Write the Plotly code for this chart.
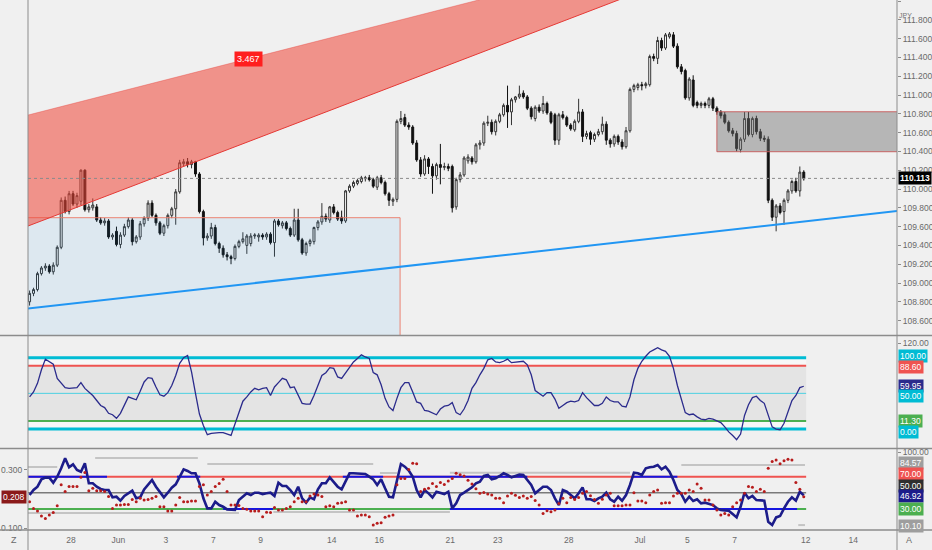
import numpy as np
import pandas as pd
import plotly.graph_objects as go

# USDJPY 4h bars, 26 May - 9 Jul 2021 (first bar of 26 May is off screen)
opens = [
    108.80, 108.89, 108.93, 109.10, 109.16, 109.18, 109.12, 109.19, 109.38, 109.88,
    109.76, 109.95, 109.84, 109.87, 110.20, 109.78, 109.80, 109.81, 109.67, 109.64,
    109.66, 109.49, 109.55, 109.41, 109.51, 109.60, 109.67, 109.44, 109.49, 109.63,
    109.69, 109.85, 109.72, 109.64, 109.53, 109.61, 109.72, 109.79, 109.97, 110.27,
    110.29, 110.26, 110.29, 110.16, 109.76, 109.48, 109.50, 109.59, 109.42, 109.37,
    109.30, 109.28, 109.26, 109.39, 109.44, 109.40, 109.42, 109.50, 109.49, 109.51,
    109.49, 109.52, 109.43, 109.66, 109.61, 109.64, 109.58, 109.51, 109.67, 109.46,
    109.32, 109.42, 109.44, 109.59, 109.65, 109.71, 109.67, 109.81, 109.75, 109.70,
    109.66, 109.98, 110.03, 110.06, 110.08, 110.11, 110.12, 110.10, 110.02, 110.12,
    110.07, 109.95, 109.87, 109.89, 110.72, 110.76, 110.68, 110.66, 110.49, 110.31,
    110.16, 110.32, 110.24, 110.14, 110.26, 110.23, 110.24, 110.24, 109.81, 110.10,
    110.15, 110.30, 110.33, 110.29, 110.47, 110.49, 110.70, 110.71, 110.61, 110.72,
    110.79, 110.89, 110.82, 110.95, 110.98, 111.02, 110.98, 110.86, 110.75, 110.87,
    110.83, 110.91, 110.81, 110.79, 110.52, 110.79, 110.76, 110.68, 110.63, 110.72,
    110.82, 110.56, 110.60, 110.53, 110.58, 110.61, 110.69, 110.52, 110.48, 110.56,
    110.50, 110.45, 110.62, 111.06, 111.08, 111.11, 111.10, 111.11, 111.41, 111.39,
    111.58, 111.50, 111.62, 111.64, 111.52, 111.30, 111.26, 110.97, 111.16, 110.92,
    110.89, 110.91, 110.89, 110.96, 110.86, 110.82, 110.79, 110.71, 110.62, 110.59,
    110.42, 110.53, 110.75, 110.58, 110.75, 110.61, 110.54, 110.53, 109.88, 109.70,
    109.82, 109.76, 109.88, 109.98, 110.08, 109.98, 110.18,
]
highs = [
    108.92, 108.95, 109.12, 109.18, 109.21, 109.20, 109.22, 109.40, 109.91, 109.92,
    109.98, 109.98, 109.96, 110.21, 110.21, 109.84, 109.90, 109.84, 109.70, 109.69,
    109.68, 109.53, 109.60, 109.54, 109.63, 109.70, 109.69, 109.51, 109.66, 109.71,
    109.88, 109.88, 109.74, 109.66, 109.63, 109.74, 109.81, 110.00, 110.31, 110.32,
    110.33, 110.31, 110.30, 110.18, 109.78, 109.53, 109.64, 109.62, 109.44, 109.40,
    109.33, 109.30, 109.41, 109.46, 109.54, 109.52, 109.53, 109.53, 109.53, 109.53,
    109.54, 109.54, 109.68, 109.68, 109.66, 109.66, 109.60, 109.79, 109.79, 109.48,
    109.44, 109.47, 109.60, 109.67, 109.85, 109.74, 109.82, 109.84, 109.77, 109.77,
    109.99, 110.05, 110.09, 110.11, 110.14, 110.14, 110.15, 110.12, 110.14, 110.15,
    110.09, 109.97, 109.91, 110.74, 110.83, 110.80, 110.71, 110.68, 110.52, 110.34,
    110.36, 110.34, 110.27, 110.28, 110.48, 110.28, 110.27, 110.26, 110.12, 110.18,
    110.35, 110.37, 110.35, 110.49, 110.52, 110.72, 110.78, 110.74, 110.74, 110.81,
    110.91, 111.10, 110.97, 110.99, 111.10, 111.05, 111.00, 110.88, 110.89, 110.90,
    110.99, 110.93, 110.83, 110.81, 110.81, 110.83, 110.78, 110.70, 110.74, 110.96,
    110.85, 110.62, 110.62, 110.60, 110.64, 110.77, 110.72, 110.54, 110.58, 110.58,
    110.53, 110.66, 111.08, 111.12, 111.13, 111.14, 111.14, 111.43, 111.44, 111.62,
    111.61, 111.66, 111.67, 111.67, 111.55, 111.33, 111.28, 111.19, 111.21, 110.94,
    110.93, 110.93, 110.98, 110.98, 110.88, 110.84, 110.82, 110.73, 110.65, 110.62,
    110.55, 110.82, 110.82, 110.77, 110.78, 110.64, 110.57, 110.56, 109.90, 109.84,
    109.85, 109.90, 110.00, 110.10, 110.12, 110.24, 110.20,
]
lows = [
    108.76, 108.86, 108.91, 109.08, 109.13, 109.10, 109.09, 109.17, 109.36, 109.74,
    109.73, 109.82, 109.80, 109.83, 109.76, 109.75, 109.77, 109.65, 109.62, 109.61,
    109.47, 109.46, 109.39, 109.37, 109.49, 109.58, 109.40, 109.42, 109.46, 109.60,
    109.66, 109.70, 109.61, 109.51, 109.50, 109.58, 109.69, 109.62, 109.95, 110.24,
    110.23, 110.22, 110.13, 109.74, 109.40, 109.45, 109.47, 109.40, 109.32, 109.27,
    109.24, 109.20, 109.24, 109.37, 109.42, 109.31, 109.39, 109.47, 109.44, 109.46,
    109.46, 109.41, 109.28, 109.60, 109.58, 109.56, 109.49, 109.49, 109.44, 109.30,
    109.29, 109.39, 109.41, 109.56, 109.62, 109.65, 109.64, 109.73, 109.66, 109.63,
    109.64, 109.96, 110.01, 110.04, 110.06, 110.08, 110.08, 110.01, 109.99, 110.05,
    109.93, 109.82, 109.82, 109.86, 110.69, 110.66, 110.63, 110.47, 110.29, 110.13,
    110.14, 110.16, 109.95, 110.10, 110.05, 110.20, 110.19, 109.75, 109.78, 110.07,
    110.13, 110.27, 110.26, 110.27, 110.42, 110.46, 110.67, 110.58, 110.57, 110.70,
    110.77, 110.65, 110.68, 110.92, 110.96, 110.96, 110.84, 110.74, 110.72, 110.81,
    110.80, 110.79, 110.69, 110.47, 110.47, 110.74, 110.66, 110.62, 110.61, 110.70,
    110.50, 110.53, 110.47, 110.50, 110.56, 110.58, 110.47, 110.44, 110.45, 110.47,
    110.42, 110.43, 110.60, 111.03, 111.05, 111.05, 111.07, 111.09, 111.36, 111.33,
    111.47, 111.48, 111.60, 111.50, 111.28, 111.22, 110.95, 110.94, 110.87, 110.86,
    110.86, 110.86, 110.86, 110.83, 110.79, 110.75, 110.69, 110.60, 110.56, 110.40,
    110.39, 110.50, 110.56, 110.55, 110.58, 110.51, 110.50, 109.85, 109.66, 109.55,
    109.73, 109.62, 109.85, 109.95, 109.96, 109.92, 110.09,
]
closes = [
    108.89, 108.93, 109.10, 109.16, 109.18, 109.12, 109.19, 109.38, 109.88, 109.76,
    109.95, 109.84, 109.93, 110.20, 109.78, 109.81, 109.83, 109.67, 109.64, 109.66,
    109.49, 109.51, 109.41, 109.51, 109.60, 109.67, 109.44, 109.49, 109.63, 109.69,
    109.85, 109.72, 109.64, 109.53, 109.61, 109.72, 109.79, 109.97, 110.28, 110.29,
    110.26, 110.29, 110.16, 109.76, 109.48, 109.50, 109.59, 109.42, 109.37, 109.30,
    109.28, 109.26, 109.39, 109.44, 109.47, 109.50, 109.50, 109.51, 109.51, 109.49,
    109.52, 109.43, 109.66, 109.62, 109.64, 109.58, 109.51, 109.67, 109.46, 109.32,
    109.42, 109.45, 109.59, 109.65, 109.71, 109.68, 109.81, 109.75, 109.68, 109.66,
    109.98, 110.03, 110.07, 110.09, 110.12, 110.12, 110.10, 110.03, 110.12, 110.07,
    109.95, 109.88, 109.89, 110.72, 110.75, 110.68, 110.66, 110.49, 110.31, 110.16,
    110.32, 110.24, 110.14, 110.26, 110.23, 110.24, 110.22, 109.80, 110.10, 110.15,
    110.33, 110.34, 110.29, 110.47, 110.49, 110.70, 110.71, 110.61, 110.72, 110.79,
    110.89, 110.82, 110.95, 110.98, 111.01, 110.98, 110.86, 110.77, 110.87, 110.83,
    110.91, 110.81, 110.71, 110.52, 110.79, 110.76, 110.68, 110.64, 110.72, 110.82,
    110.56, 110.59, 110.53, 110.58, 110.61, 110.69, 110.52, 110.48, 110.56, 110.50,
    110.45, 110.62, 111.06, 111.10, 111.11, 111.10, 111.12, 111.41, 111.39, 111.58,
    111.50, 111.64, 111.65, 111.52, 111.30, 111.25, 110.97, 111.17, 110.89, 110.89,
    110.91, 110.89, 110.96, 110.86, 110.82, 110.78, 110.71, 110.62, 110.59, 110.43,
    110.53, 110.75, 110.58, 110.75, 110.61, 110.54, 110.53, 109.88, 109.70, 109.82,
    109.75, 109.88, 109.98, 110.08, 109.98, 110.18, 110.11,
]

# middle pane oscillator
osc = [
    45, 52, 64, 83, 98, 94, 91, 71, 64, 58,
    57, 57, 58, 65, 57, 52, 47, 40, 33, 30,
    22, 20, 15, 22, 33, 45, 43, 41, 53, 66,
    72, 71, 59, 48, 46, 51, 61, 75, 92, 100,
    103, 80, 50, 21, 5, -8, -6, -5, -5, -5,
    -7, -9, 7, 24, 39, 45, 52, 57, 55, 57,
    58, 47, 59, 65, 71, 69, 58, 59, 47, 36,
    35, 35, 47, 62, 75, 79, 86, 85, 73, 71,
    79, 87, 94, 99, 104, 101, 99, 79, 76, 62,
    43, 31, 26, 43, 58, 65, 65, 52, 38, 36,
    26, 25, 23, 20, 28, 32, 33, 37, 23, 20,
    28, 40, 57, 65, 76, 85, 97, 99, 94, 93,
    95, 98, 93, 94, 94, 95, 90, 76, 54, 50,
    46, 51, 51, 42, 29, 33, 37, 39, 38, 40,
    51, 44, 39, 33, 33, 36, 45, 40, 38, 38,
    32, 31, 45, 69, 85, 95, 102, 108, 111, 114,
    111, 109, 102, 85, 61, 40, 23, 20, 21, 17,
    14, 13, 15, 14, 12, 9, 3, -4, -9, -15,
    -7, 19, 34, 44, 46, 40, 36, 19, 3, 0,
    -1, 8, 24, 40, 47, 58, 59.95,
]
osc_levels = [100, 88.6, 50, 11.3, 0]

# bottom pane: rsi on the right scale, red dots on the left scale
rsi = [
    47.3, 53.5, 57.6, 66.7, 68.8, 68.8, 62.6, 70.0, 80.4, 92.8,
    81.6, 85.3, 78.3, 76.2, 86.6, 61.8, 61.8, 57.6, 54.8, 53.5,
    53.5, 44.4, 45.2, 40.3, 46.1, 49.4, 52.7, 43.2, 44.4, 54.3,
    59.7, 65.9, 57.6, 51.4, 44.4, 50.2, 56.4, 60.5, 70.0, 79.1,
    77.1, 74.2, 74.2, 61.8, 43.2, 30.8, 30.8, 39.0, 34.9, 32.8,
    29.5, 29.5, 28.8, 41.1, 45.2, 49.4, 47.3, 50.2, 50.2, 48.5,
    49.4, 50.2, 46.1, 62.6, 58.5, 58.5, 53.5, 47.3, 57.6, 43.2,
    37.8, 44.4, 42.0, 54.3, 61.8, 61.8, 69.2, 63.9, 57.6, 54.3,
    63.9, 74.2, 74.2, 74.2, 74.2, 73.3, 70.0, 66.7, 59.7, 66.7,
    55.6, 45.2, 44.4, 66.7, 85.7, 82.4, 77.5, 70.0, 53.5, 44.4,
    53.5, 49.4, 44.4, 51.4, 50.2, 48.5, 51.4, 30.8, 37.0, 47.3,
    50.2, 53.5, 56.8, 61.8, 63.9, 70.9, 72.1, 66.7, 68.0, 70.9,
    74.2, 72.1, 69.2, 70.9, 72.5, 72.1, 65.9, 59.7, 49.4, 53.5,
    57.6, 57.6, 53.5, 43.2, 34.9, 53.5, 51.4, 47.3, 43.2, 49.4,
    56.8, 42.0, 42.0, 39.9, 43.2, 45.2, 50.2, 42.0, 39.0, 45.2,
    40.3, 47.3, 59.7, 75.0, 74.2, 72.1, 80.4, 81.6, 82.4, 84.5,
    79.1, 82.4, 76.2, 65.9, 53.5, 48.5, 39.0, 45.2, 39.9, 42.0,
    37.0, 37.8, 36.1, 34.9, 30.8, 28.8, 28.3, 27.9, 23.8, 19.6,
    32.8, 50.2, 43.2, 46.1, 41.1, 40.3, 40.3, 14.3, 10.2, 19.6,
    21.3, 30.8, 39.0, 44.4, 40.3, 51.4, 46.92,
]
rsi_levels = [70, 50, 30]
dots = [
    0.191, 0.168, 0.159, 0.142, 0.134, 0.146, 0.154, 0.177, 0.249, 0.226,
    0.243, 0.243, 0.243, 0.275, 0.291, 0.229, 0.237, 0.229, 0.229, 0.226,
    0.209, 0.168, 0.180, 0.180, 0.182, 0.182, 0.199, 0.191, 0.203, 0.197,
    0.199, 0.203, 0.209, 0.174, 0.174, 0.159, 0.159, 0.180, 0.206, 0.191,
    0.191, 0.194, 0.194, 0.243, 0.249, 0.214, 0.226, 0.243, 0.254, 0.268,
    0.226, 0.180, 0.180, 0.178, 0.168, 0.165, 0.159, 0.159, 0.159, 0.140,
    0.155, 0.154, 0.171, 0.163, 0.163, 0.168, 0.174, 0.191, 0.203, 0.191,
    0.191, 0.211, 0.218, 0.214, 0.209, 0.174, 0.177, 0.174, 0.186, 0.188,
    0.191, 0.163, 0.163, 0.142, 0.146, 0.146, 0.140, 0.111, 0.117, 0.119,
    0.138, 0.142, 0.146, 0.249, 0.271, 0.271, 0.302, 0.323, 0.321, 0.226,
    0.234, 0.237, 0.254, 0.243, 0.257, 0.250, 0.262, 0.271, 0.289, 0.284,
    0.279, 0.265, 0.252, 0.236, 0.220, 0.223, 0.218, 0.214, 0.203, 0.203,
    0.188, 0.211, 0.220, 0.213, 0.206, 0.211, 0.203, 0.209, 0.195, 0.180,
    0.151, 0.160, 0.157, 0.163, 0.185, 0.203, 0.188, 0.206, 0.199, 0.206,
    0.220, 0.226, 0.212, 0.199, 0.186, 0.200, 0.214, 0.220, 0.177, 0.177,
    0.177, 0.180, 0.180, 0.222, 0.194, 0.194, 0.188, 0.214, 0.226, 0.231,
    0.186, 0.188, 0.188, 0.211, 0.220, 0.220, 0.220, 0.231, 0.226, 0.252,
    0.237, 0.197, 0.197, 0.180, 0.163, 0.146, 0.151, 0.146, 0.174, 0.188,
    0.197, 0.220, 0.243, 0.241, 0.226, 0.234, 0.226, 0.306, 0.329, 0.334,
    0.321, 0.332, 0.337, 0.334, 0.257, 0.234, 0.208,
]

# grey step lines and blue highlights in bottom pane (bar from, bar to, level)
grey_from = [-1, 16.6, 45, 88.7, 106.4, 165, -1, 61.7, 194.6]
grey_to = [7, 42.6, 87, 93, 152, 196.3, 53, 106.4, 196.3]
grey_level = [82, 93.2, 85.7, 74.6, 75, 84.57, 25, 26.3, 10.1]
blue_hi = [(-1, 19.6), (37.3, 43.2), (79.3, 89.5), (93, 126), (152.5, 164)]
blue_lo = [(49, 61.6), (106.4, 194.3)]

tick_dates = ["2021-05-28", "2021-06-01", "2021-06-03", "2021-06-07", "2021-06-09",
              "2021-06-14", "2021-06-16", "2021-06-21", "2021-06-23", "2021-06-28",
              "2021-07-01", "2021-07-05", "2021-07-07", "2021-07-12", "2021-07-14"]
tick_text = ["28", "Jun", "3", "7", "9", "14", "16", "21", "23", "28",
             "Jul", "5", "7", "12", "14"]

# drawings on the price pane (bar index, price)
wedge_bars = [-10, 150]
wedge_upper = [110.684, 112.401]
wedge_lower = [109.452, 112.026]
wedge_label = ("3.467", 55.3, 111.383)
trend_bars = [-10, 230]
trend_prices = [108.684, 109.815]
range_box = (-10, 93.8, 108.0, 109.695)
supply_box = (174.0, 240, 110.397, 110.822)
last_price = 110.113
last_dot = 0.208

assert len(opens) == len(highs) == len(lows) == len(closes) == len(osc) == len(rsi) == len(dots)

BARS_PER_DAY = 6
bars = np.arange(len(closes))
days = pd.bdate_range("2021-05-26", "2021-07-16").strftime("%Y-%m-%d").tolist()
tickvals = [BARS_PER_DAY * days.index(d) - 1.5 for d in tick_dates]
xr = [-0.4, 219.6]
end = len(bars) - 0.4

BG = "#f0f0f0"
FONT = "Liberation Sans"
AX = "#6a6a6a"

fig = go.Figure()
fig.add_trace(go.Candlestick(
    x=bars, open=opens, high=highs, low=lows, close=closes,
    xaxis="x", yaxis="y", whiskerwidth=0, showlegend=False, hoverinfo="skip",
    increasing=dict(fillcolor="#ffffff", line=dict(color="#333333", width=1)),
    decreasing=dict(fillcolor="#111111", line=dict(color="#111111", width=1)),
))
fig.add_trace(go.Scatter(x=bars, y=osc, xaxis="x2", yaxis="y2", mode="lines",
                         line=dict(color="#2b2b8c", width=1.3), showlegend=False))
fig.add_trace(go.Scatter(x=bars, y=rsi, xaxis="x3", yaxis="y3", mode="lines",
                         line=dict(color="#1c1c8a", width=2.6), showlegend=False))
fig.add_trace(go.Scatter(x=bars, y=dots, xaxis="x3", yaxis="y4", mode="markers",
                         marker=dict(color="#b71c1c", size=3), showlegend=False))

shapes = []


def hline(xa, ya, y, x0, x1, color, width, layer="below", dash="solid"):
    shapes.append(dict(type="line", xref=xa, yref=ya, x0=x0, x1=x1, y0=y, y1=y,
                       line=dict(color=color, width=width, dash=dash), layer=layer))


# price pane drawings
shapes.append(dict(type="rect", xref="x", yref="y", x0=range_box[0], x1=range_box[1],
                   y0=range_box[2], y1=range_box[3], fillcolor="rgba(33,150,243,0.09)",
                   line=dict(color="rgba(235,120,100,0.9)", width=1), layer="above"))
shapes.append(dict(type="path", xref="x", yref="y",
                   path=f"M {wedge_bars[0]},{wedge_lower[0]} L {wedge_bars[1]},{wedge_lower[1]} "
                        f"L {wedge_bars[1]},{wedge_upper[1]} L {wedge_bars[0]},{wedge_upper[0]} Z",
                   fillcolor="rgba(240,70,55,0.55)", line=dict(width=0), layer="above"))
shapes.append(dict(type="line", xref="x", yref="y", x0=wedge_bars[0], x1=wedge_bars[1],
                   y0=wedge_lower[0], y1=wedge_lower[1], line=dict(color="#e53935", width=1),
                   layer="above"))
shapes.append(dict(type="line", xref="x", yref="y", x0=wedge_bars[0], x1=wedge_bars[1],
                   y0=wedge_upper[0], y1=wedge_upper[1],
                   line=dict(color="rgba(229,57,53,0.35)", width=1), layer="above"))
shapes.append(dict(type="rect", xref="x", yref="y", x0=supply_box[0], x1=supply_box[1],
                   y0=supply_box[2], y1=supply_box[3], fillcolor="rgba(110,110,110,0.45)",
                   line=dict(color="rgba(200,90,90,0.9)", width=1), layer="above"))
shapes.append(dict(type="line", xref="x", yref="y", x0=trend_bars[0], x1=trend_bars[1],
                   y0=trend_prices[0], y1=trend_prices[1],
                   line=dict(color="#2196f3", width=2), layer="above"))
shapes.append(dict(type="line", xref="x domain", yref="y", x0=0, x1=1, y0=last_price,
                   y1=last_price, line=dict(color="#8a8a8a", width=1, dash="dot"), layer="above"))

# middle pane bands and levels
shapes.append(dict(type="rect", xref="x2", yref="y2", x0=-1, x1=end, y0=osc_levels[3],
                   y1=osc_levels[1], fillcolor="rgba(128,128,128,0.1)", line=dict(width=0),
                   layer="below"))
for lo, hi in [(osc_levels[1], osc_levels[0]), (osc_levels[4], osc_levels[3])]:
    shapes.append(dict(type="rect", xref="x2", yref="y2", x0=-1, x1=end, y0=lo, y1=hi,
                       fillcolor="rgba(255,255,255,0.45)", line=dict(width=0), layer="below"))
hline("x2", "y2", osc_levels[0], -1, end, "#00bcd4", 3)
hline("x2", "y2", osc_levels[4], -1, end, "#00bcd4", 3)
hline("x2", "y2", osc_levels[1], -1, end, "#ef5350", 2)
hline("x2", "y2", osc_levels[3], -1, end, "#4caf50", 2)
hline("x2", "y2", osc_levels[2], -1, end, "#4dd0e1", 1)

# bottom pane levels
for a, b, lv in zip(grey_from, grey_to, grey_level):
    hline("x3", "y3", lv, a, b, "#c4c4c4", 2)
hline("x3", "y3", rsi_levels[0], -1, end, "#ef5350", 2)
hline("x3", "y3", rsi_levels[1], -1, end, "#7a7a7a", 1.5)
hline("x3", "y3", rsi_levels[2], -1, end, "#4caf50", 2)
for a, b in blue_hi:
    hline("x3", "y3", rsi_levels[0], a, b, "#1515e0", 2)
for a, b in blue_lo:
    hline("x3", "y3", rsi_levels[2], a, b, "#1515e0", 2)

# frame lines
left_pad = -28 / 869
right_pad = 1 + 35 / 869
for py in [(530 - 335.5) / 530, (530 - 448.5) / 530, 0]:
    shapes.append(dict(type="line", xref="paper", yref="paper", x0=left_pad, x1=right_pad,
                       y0=py, y1=py, line=dict(color="#8c8c8c", width=1.5), layer="above"))
for px in [0, 1]:
    shapes.append(dict(type="line", xref="paper", yref="paper", x0=px, x1=px,
                       y0=-20 / 530, y1=1, line=dict(color="#8c8c8c", width=1), layer="above"))

annotations = []


def tag(yref, y, text, color, shift=0, side="right"):
    annotations.append(dict(
        xref="paper", yref=yref, x=1 if side == "right" else 0, y=y,
        xanchor="left" if side == "right" else "right", yanchor="middle", yshift=shift,
        xshift=1 if side == "right" else -1, text=text, showarrow=False, bgcolor=color,
        borderpad=1, font=dict(family=FONT, size=8.5, color="#ffffff")))


tag("y", last_price, f"<b>{last_price:.3f}</b>", "#000000")
tag("y2", osc_levels[0], f"{osc_levels[0]:.2f}", "#00bcd4", 2)
tag("y2", osc_levels[1], f"{osc_levels[1]:.2f}", "#ef5350", -1)
tag("y2", osc[-1], f"{osc[-1]:.2f}", "#2b2b8c")
tag("y2", osc_levels[2], f"{osc_levels[2]:.2f}", "#00bcd4", -3)
tag("y2", osc_levels[3], f"{osc_levels[3]:.2f}", "#4caf50")
tag("y2", osc_levels[4], f"{osc_levels[4]:.2f}", "#00bcd4", -3)
tag("y3", grey_level[5], f"{grey_level[5]:.2f}", "#9e9e9e", 2)
tag("y3", rsi_levels[0], f"{rsi_levels[0]:.2f}", "#ef5350", 3)
tag("y3", rsi_levels[1], f"{rsi_levels[1]:.2f}", "#2f2f2f", 7)
tag("y3", rsi[-1], f"{rsi[-1]:.2f}", "#1c1c8a", -1)
tag("y3", rsi_levels[2], f"{rsi_levels[2]:.2f}", "#4caf50")
tag("y3", grey_level[8], f"{grey_level[8]:.2f}", "#9e9e9e", -1)
tag("y4", last_dot, f"{last_dot:.3f}", "#8b1a1a", side="left")

annotations.append(dict(xref="x", yref="y", x=wedge_label[1], y=wedge_label[2],
                        text=wedge_label[0], showarrow=False, bgcolor="#ff1f1f", borderpad=2,
                        font=dict(family=FONT, size=9, color="#ffffff")))
annotations.append(dict(xref="paper", yref="paper", x=1 + 17 / 869, y=(530 - 10) / 530,
                        text="JPY", showarrow=False, font=dict(family=FONT, size=7, color="#777777")))
annotations.append(dict(xref="paper", yref="paper", x=1 + 17 / 869, y=-17 / 530,
                        text="A", showarrow=False, font=dict(family=FONT, size=9, color=AX)))
annotations.append(dict(xref="paper", yref="paper", x=-19 / 869, y=-17 / 530,
                        text="Z", showarrow=False, font=dict(family=FONT, size=9, color=AX)))

tickfont = dict(family=FONT, size=8.5, color=AX)
xcommon = dict(range=xr, showgrid=False, zeroline=False, showline=False, automargin=False)
ycommon = dict(showgrid=False, zeroline=False, showline=False, automargin=False,
               ticks="outside", ticklen=3, tickcolor="#8c8c8c", tickfont=tickfont)

fig.update_layout(
    width=932, height=550,
    margin=dict(l=28, r=35, t=0, b=20),
    paper_bgcolor=BG, plot_bgcolor="rgba(0,0,0,0)",
    showlegend=False, hovermode=False,
    shapes=shapes, annotations=annotations,
    xaxis=dict(anchor="y", showticklabels=False, rangeslider=dict(visible=False), **xcommon),
    xaxis2=dict(anchor="y2", showticklabels=False, **xcommon),
    xaxis3=dict(anchor="y3", tickvals=tickvals, ticktext=tick_text, ticks="",
                ticklabelstandoff=3, tickfont=tickfont, **xcommon),
    yaxis=dict(domain=[195 / 530, 1], range=[108.447, 112.011], side="right", anchor="x",
               tick0=108.6, dtick=0.2, tickformat=".3f", **ycommon),
    yaxis2=dict(domain=[82 / 530, 194 / 530], range=[-26.6, 130.4], side="right", anchor="x2",
                tickvals=[120], tickformat=".2f", **ycommon),
    yaxis3=dict(domain=[0, 81 / 530], range=[4.0, 104.3], side="right", anchor="x3",
                tickvals=[100], tickformat=".2f", **ycommon),
    yaxis4=dict(overlaying="y3", range=[0.0942, 0.372], side="left", anchor="x3",
                tickvals=[0.1, 0.3], tickformat=".3f", **ycommon),
)

# the page's default body margin would push the chart 8px off the window
fig.write_html("out.html", config={"displayModeBar": False},
               post_script="document.body.style.margin='0';"
                           "document.body.style.overflow='hidden';")
